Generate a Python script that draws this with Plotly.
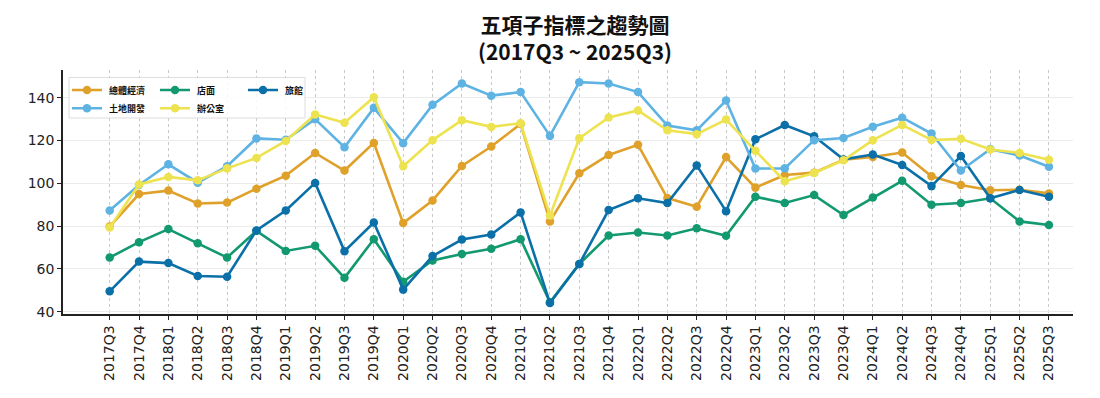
import plotly.graph_objects as go

quarters = ["2017Q3", "2017Q4", "2018Q1", "2018Q2", "2018Q3", "2018Q4",
            "2019Q1", "2019Q2", "2019Q3", "2019Q4", "2020Q1", "2020Q2",
            "2020Q3", "2020Q4", "2021Q1", "2021Q2", "2021Q3", "2021Q4",
            "2022Q1", "2022Q2", "2022Q3", "2022Q4", "2023Q1", "2023Q2",
            "2023Q3", "2023Q4", "2024Q1", "2024Q2", "2024Q3", "2024Q4",
            "2025Q1", "2025Q2", "2025Q3"]

macro = [79.8, 95.0, 96.6, 90.6, 91.0, 97.5, 103.6, 114.2, 106.0, 118.9, 81.4, 92.0,
         108.1, 117.2, 127.8, 82.2, 104.7, 113.3, 118.0, 93.1, 89.1, 112.3, 98.0, 103.9,
         105.0, 111.0, 112.3, 114.4, 103.3, 99.2, 96.8, 97.0, 95.3]
shop = [65.3, 72.5, 78.6, 72.0, 65.3, 77.8, 68.4, 70.8, 55.8, 73.9, 54.0, 63.9,
        67.0, 69.4, 73.9, 44.4, 62.3, 75.6, 77.0, 75.6, 79.0, 75.5, 93.7, 90.8,
        94.5, 85.2, 93.4, 101.2, 90.0, 90.8, 93.0, 82.2, 80.5]
hotel = [49.5, 63.4, 62.7, 56.7, 56.3, 78.0, 87.3, 100.2, 68.3, 81.7, 50.3, 66.0,
         73.7, 76.1, 86.4, 44.0, 62.3, 87.5, 93.0, 90.8, 108.4, 87.0, 120.6, 127.3,
         122.0, 111.2, 113.5, 108.6, 98.7, 112.8, 93.0, 96.9, 93.7]
land = [87.3, 99.2, 108.9, 100.3, 108.0, 121.0, 120.4, 130.0, 116.9, 135.3, 118.8, 136.7,
        146.7, 141.0, 142.7, 122.2, 147.3, 146.7, 142.7, 127.0, 124.8, 138.7, 106.9, 107.0,
        120.2, 121.2, 126.5, 130.7, 123.3, 106.0, 116.0, 113.0, 107.8]
office = [79.3, 99.5, 103.0, 101.4, 107.0, 111.9, 119.8, 132.2, 128.3, 140.3, 108.0, 120.2,
          129.5, 126.4, 128.1, 85.0, 121.1, 130.8, 134.1, 124.8, 123.0, 129.8, 115.2, 101.0,
          104.8, 110.8, 120.2, 127.3, 120.3, 120.8, 115.8, 114.2, 111.0]

series_names = ["總體經濟", "店面", "旅館", "土地開發", "辦公室"]
series_values = [macro, shop, hotel, land, office]
series_colors = ["#DFA12A", "#12996F", "#0B6FA8", "#5EB3E2", "#EDE24F"]
series_legend = ["legend", "legend", "legend", "legend2", "legend2"]

y_ticks = [40, 60, 80, 100, 120, 140]

# The page body has an 8px margin: the figure is drawn 8px right/down,
# so the figure is sized 1092x390 to fill the 1100x398 window.
FIG_W, FIG_H, OFF = 1092, 390, 8
PL, PR, PT, PB = 63, 1073, 70, 314  # plot area in window pixels
PW, PH = PR - PL, PB - PT

fig = go.Figure()
for name, vals, col, lg in zip(series_names, series_values, series_colors, series_legend):
    fig.add_trace(go.Scatter(
        x=quarters, y=vals, name="\u00a0" + name, mode="lines+markers",
        line=dict(color=col, width=2.6),
        marker=dict(color=col, size=8.5),
        legend=lg,
    ))

# legend frame (background box behind the two legend rows)
fig.add_shape(type="rect", xref="paper", yref="paper",
              x0=(69 - PL) / PW, x1=(305 - PL) / PW,
              y0=(PB - 118) / PH, y1=(PB - 77.5) / PH,
              fillcolor="rgba(255,255,255,0.85)",
              line=dict(color="#dddddd", width=1), layer="above")

legend_font = dict(family="Noto Sans CJK TC", size=9, color="#111111", weight="bold")
common_legend = dict(orientation="h", xanchor="left", yanchor="middle",
                     bgcolor="rgba(0,0,0,0)", borderwidth=0, font=legend_font,
                     entrywidth=43, entrywidthmode="pixels", itemwidth=30,
                     tracegroupgap=0)

fig.update_layout(
    width=FIG_W, height=FIG_H,
    margin=dict(l=PL - OFF, r=FIG_W + OFF - PR, t=PT - OFF, b=FIG_H + OFF - PB, autoexpand=False),
    paper_bgcolor="white", plot_bgcolor="white",
    title=dict(
        text="<b>五項子指標之趨勢圖<br>(2017Q3 ~ 2025Q3)</b>",
        x=(575 - OFF) / FIG_W, xanchor="center", y=1 - 25 / FIG_H, yanchor="top",
        font=dict(family="Noto Sans CJK TC", size=21, color="#111111"),
    ),
    legend=dict(x=(67 - PL) / PW, y=(PB - 90) / PH, **common_legend),
    legend2=dict(x=(67 - PL) / PW, y=(PB - 108.3) / PH, **common_legend),
    showlegend=True,
)

fig.update_xaxes(
    type="category", categoryorder="array", categoryarray=quarters,
    range=[-1.59, 32.82],
    tickangle=-90, tickfont=dict(family="DejaVu Sans", size=14, color="#222222"),
    ticks="outside", ticklen=4, tickcolor="#222222",
    showline=True, linecolor="#222222", linewidth=1.5,
    showgrid=True, gridcolor="#c9c9c9", gridwidth=1, griddash="3px,3px",
    zeroline=False,
)
fig.update_yaxes(
    range=[38.9, 153], tickvals=y_ticks,
    tickfont=dict(family="DejaVu Sans", size=14, color="#222222"),
    ticks="outside", ticklen=4, tickcolor="#222222",
    showline=True, linecolor="#222222", linewidth=1.5,
    showgrid=True, gridcolor="#ebebeb", gridwidth=1,
    zeroline=False,
)

fig.write_html("out.html")
